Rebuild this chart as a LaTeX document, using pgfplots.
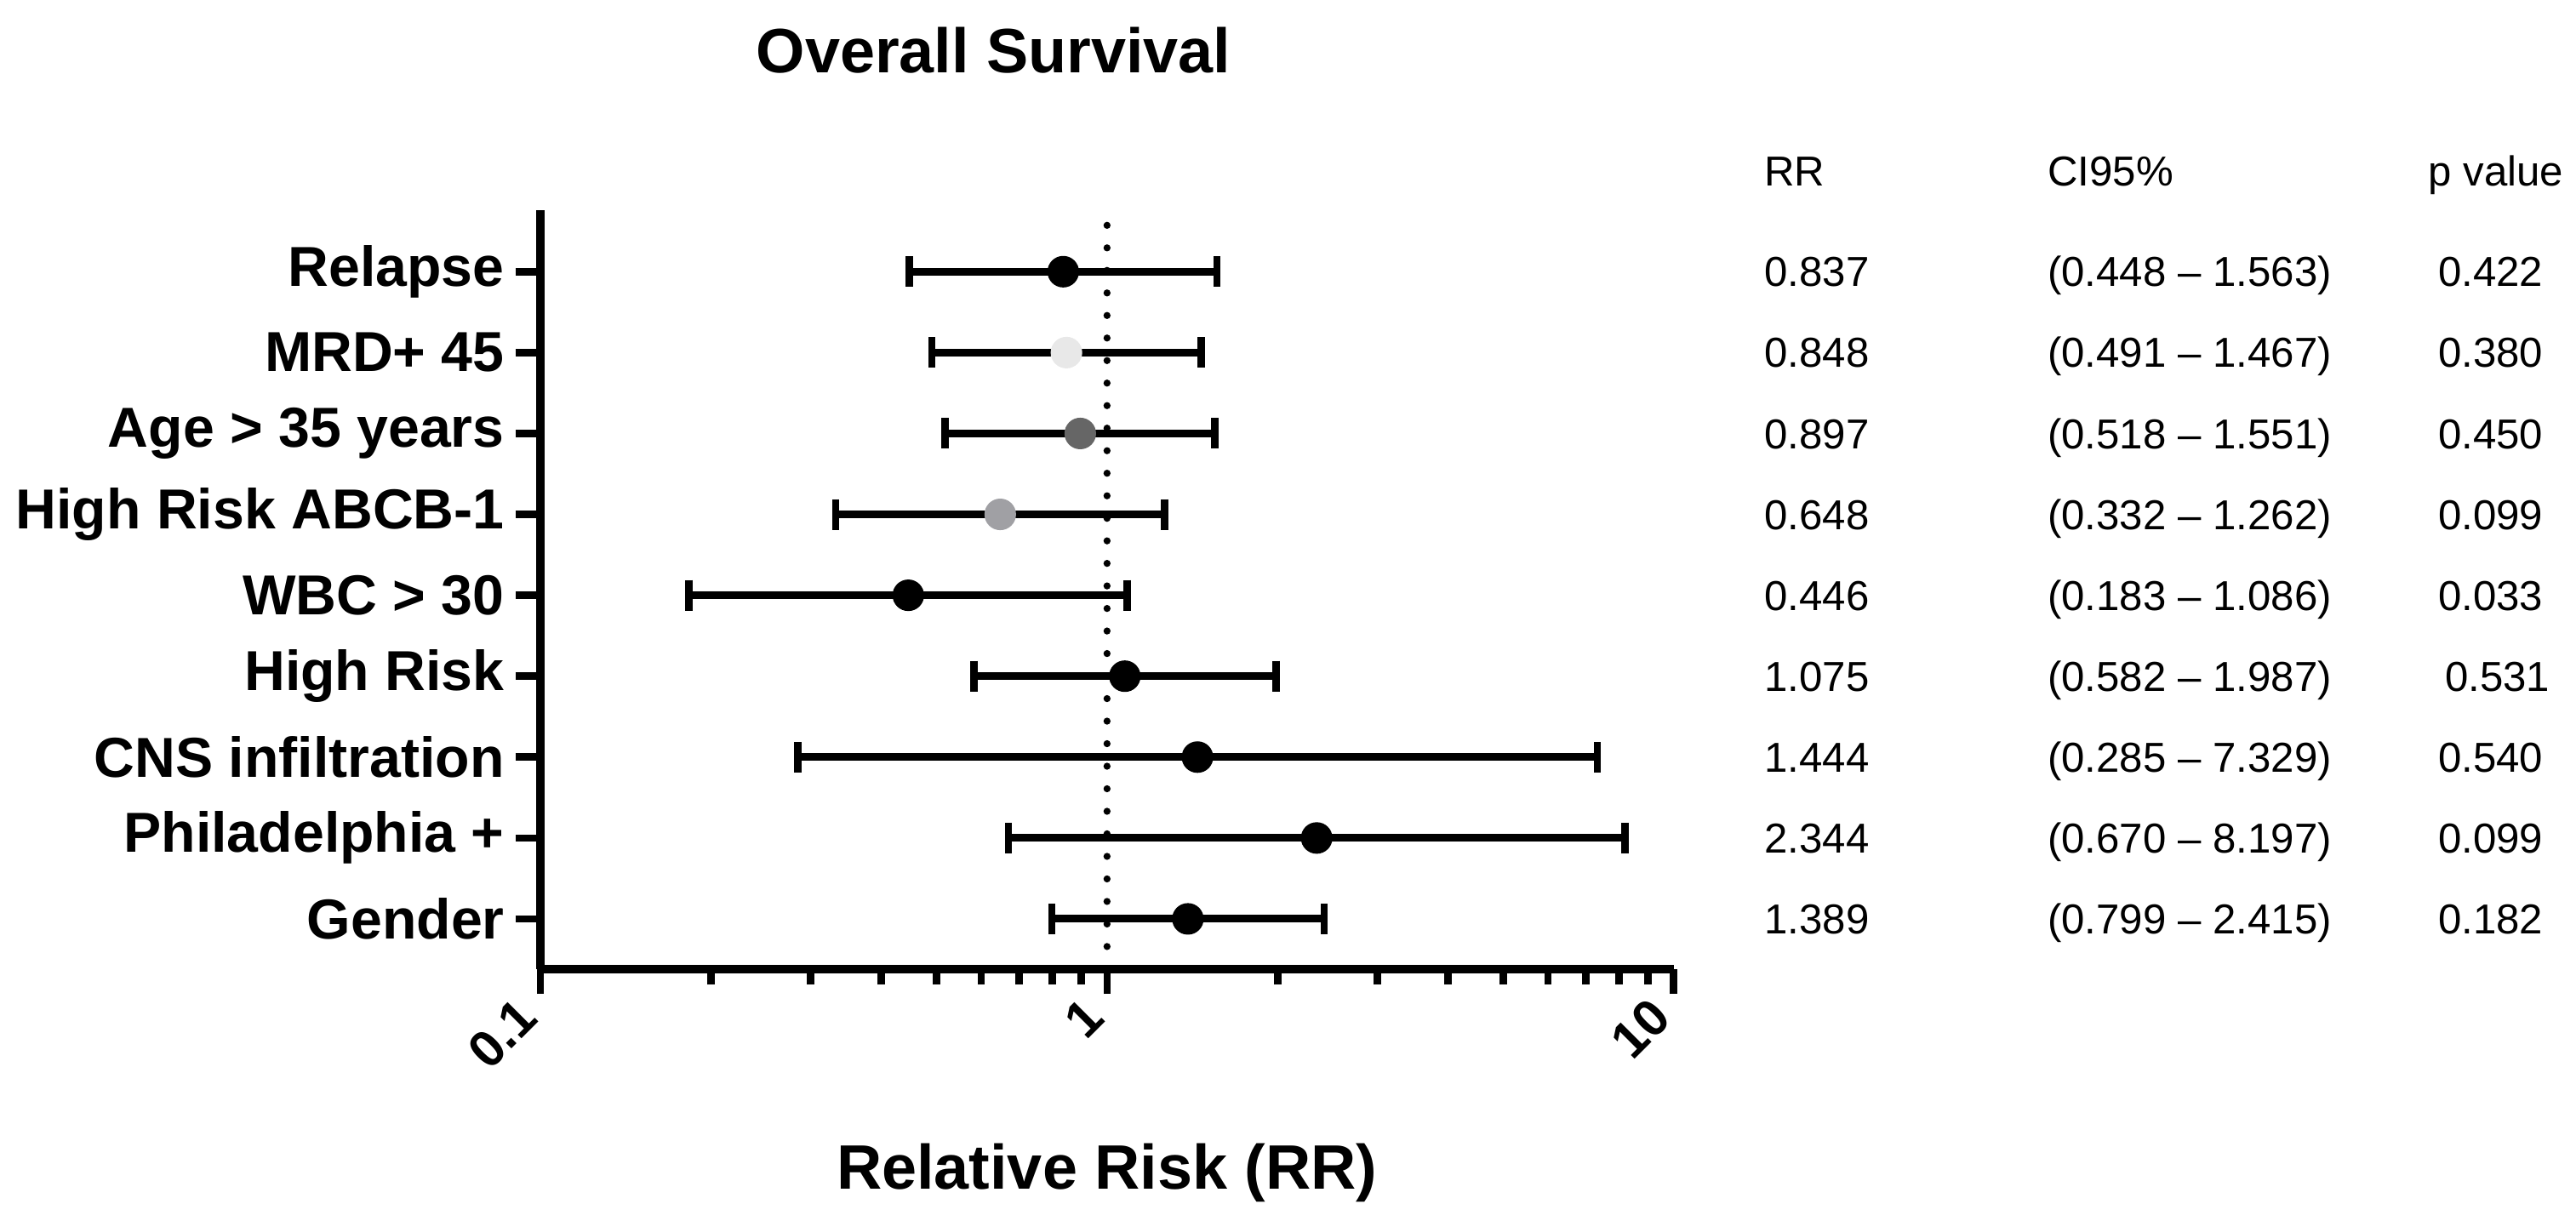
\documentclass[border=0pt]{standalone}
\usepackage{pgfplots}
\pgfplotsset{compat=1.18}
\usepackage{pgfplotstable}
\usepackage{fontspec}
\setmainfont{Liberation Sans}
\definecolor{lgray}{HTML}{E8E8E8}
\definecolor{dgray}{HTML}{666666}
\definecolor{mgray}{HTML}{A0A0A4}

\pgfplotstableread{
y rr c
9 0.837 k
8 0.848 l
7 0.897 d
6 0.648 m
5 0.446 k
4 1.075 k
3 1.444 k
2 2.344 k
1 1.389 k
}\pts

\pgfplotstableread{
x y
0.448 9
1.563 9
nan nan
0.491 8
1.467 8
nan nan
0.518 7
1.551 7
nan nan
0.332 6
1.262 6
nan nan
0.183 5
1.086 5
nan nan
0.582 4
1.987 4
nan nan
0.285 3
7.329 3
nan nan
0.670 2
8.197 2
nan nan
0.799 1
2.415 1
}\ci

\newcommand{\tfont}{\fontsize{13}{15}\selectfont}
\newcommand{\xrr}{13.80}
\newcommand{\xci}{43.63}
\newcommand{\xp}{213.3}
\newcommand{\row}[5][\xp]{%
  \node[anchor=base west,font=\tfont,yshift=-4.65pt] at (axis cs:\xrr,#2) {#3};
  \node[anchor=base west,font=\tfont,yshift=-4.65pt] at (axis cs:\xci,#2) {#4};
  \node[anchor=base west,font=\tfont,yshift=-4.65pt] at (axis cs:#1,#2) {#5};
}

\begin{document}
\begin{tikzpicture}
\useasboundingbox (0,0) rectangle (800pt,379pt);
\begin{axis}[
  at={(167.8pt,78pt)}, anchor=south west,
  scale only axis, width=352pt, height=235.7pt,
  xmode=log, xmin=0.1, xmax=10, ymin=0.38, ymax=9.76,
  axis x line*=bottom, axis y line*=left,
  axis line style={line width=2.6pt, black},
  xtick={0.1,1,10}, xticklabels={0.1,1,10},
  minor xtick={0.2,0.3,0.4,0.5,0.6,0.7,0.8,0.9,2,3,4,5,6,7,8,9},
  ytick={1,2,3,4,5,6,7,8,9},
  yticklabels={Gender,Philadelphia +,CNS infiltration,High Risk,WBC > 30,High Risk ABCB-1,Age > 35 years,MRD+ 45,Relapse},
  minor y tick num=0,
  tick align=outside,
  major tick length=7.7pt, minor tick length=4.8pt,
  tick style={line width=2.3pt, black},
  yticklabel style={font=\fontsize{17.5}{20}\selectfont\bfseries},
  xticklabel style={font=\fontsize{16}{19}\selectfont\bfseries, xshift=-1.5pt, yshift=-2pt, rotate=45, anchor=east},
  xlabel={Relative Risk (RR)},
  xlabel style={font=\fontsize{19.5}{22}\selectfont\bfseries, at={(rel axis cs:0.5,-0.290)}, anchor=base},
  clip=false,
  unbounded coords=jump,
]
\addplot[black, line width=2.2pt, line cap=round, dash pattern=on 0pt off 7pt] coordinates {(1,0.38) (1,9.76)};
\addplot[black, line width=2.4pt, mark=|, mark size=4.75pt, mark options={line width=2.3pt}] table[x=x,y=y] {\ci};
\addplot[scatter, only marks, mark=*, mark size=4.7pt,
  scatter src=explicit symbolic,
  scatter/classes={
    k={mark=*, draw=black, fill=black},
    l={mark=*, draw=lgray, fill=lgray},
    d={mark=*, draw=dgray, fill=dgray},
    m={mark=*, draw=mgray, fill=mgray}}]
  table[x=rr, y=y, meta=c] {\pts};

\node[anchor=base, font=\fontsize{19.5}{22}\selectfont\bfseries] at (rel axis cs:0.40,1.1816) {Overall Survival};
\node[anchor=base west,font=\tfont] at (axis cs:\xrr,10.063) {RR};
\node[anchor=base west,font=\tfont] at (axis cs:\xci,10.063) {CI95\%};
\node[anchor=base west,font=\tfont] at (axis cs:204.8,10.063) {p value};
\row{9}{0.837}{(0.448 -- 1.563)}{0.422}
\row{8}{0.848}{(0.491 -- 1.467)}{0.380}
\row{7}{0.897}{(0.518 -- 1.551)}{0.450}
\row{6}{0.648}{(0.332 -- 1.262)}{0.099}
\row{5}{0.446}{(0.183 -- 1.086)}{0.033}
\row[219.2]{4}{1.075}{(0.582 -- 1.987)}{0.531}
\row{3}{1.444}{(0.285 -- 7.329)}{0.540}
\row{2}{2.344}{(0.670 -- 8.197)}{0.099}
\row{1}{1.389}{(0.799 -- 2.415)}{0.182}
\end{axis}
\end{tikzpicture}
\end{document}
